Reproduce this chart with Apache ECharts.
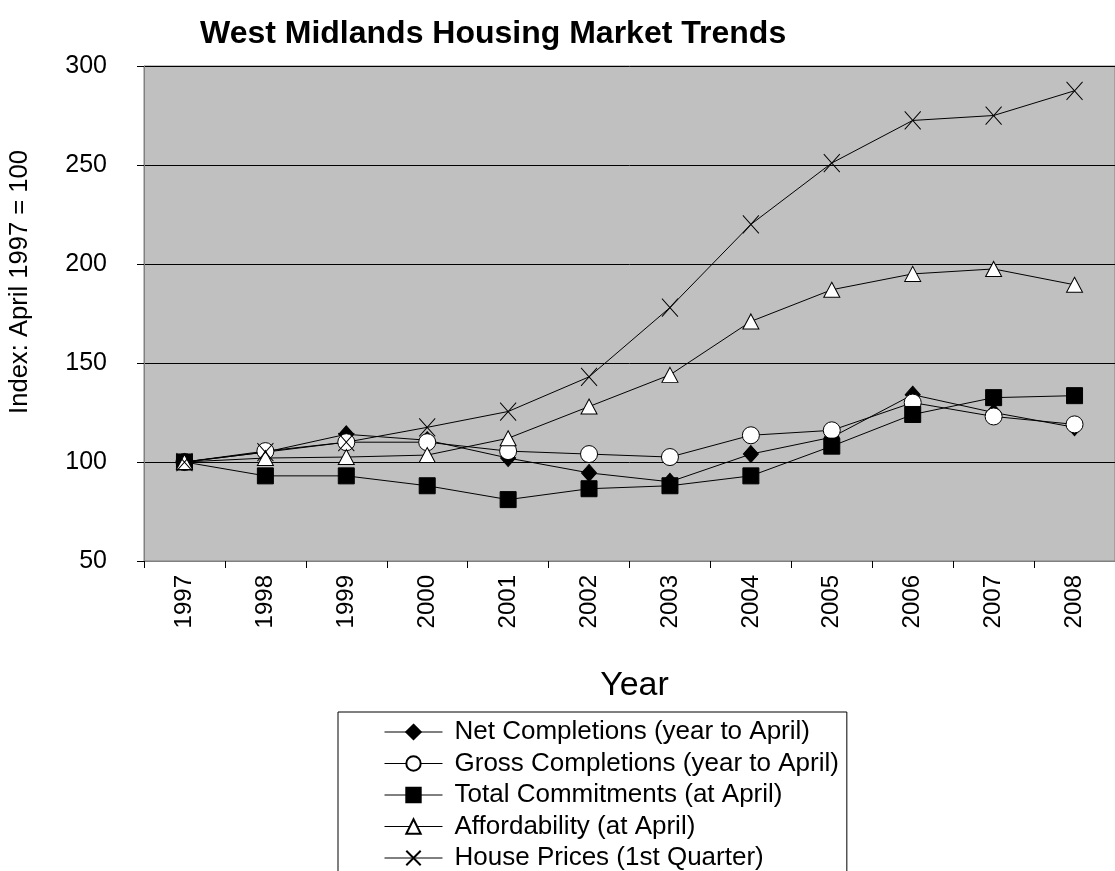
<!DOCTYPE html>
<html><head><meta charset="utf-8">
<script src="https://cdn.jsdelivr.net/npm/echarts@6/dist/echarts.min.js"></script>
<style>html,body{margin:0;padding:0;background:#fff}#c{width:1115px;height:871px}</style>
</head><body><div id="c"></div>
<script>
const years = ['1997','1998','1999','2000','2001','2002','2003','2004','2005','2006','2007','2008'];
const netCompletions = [100, 105, 114, 111, 102, 94.5, 90, 104, 112.5, 134, 125, 117.5];
const grossCompletions = [100, 105.5, 110, 110, 105.5, 104, 102.5, 113.5, 116, 130, 123, 119];
const totalCommitments = [100, 93, 93, 88, 81, 86.5, 88, 93, 108, 124, 132.5, 133.5];
const affordability = [100, 102, 102.5, 103.5, 112, 128, 144, 171, 187, 195, 197.5, 189.5];
const housePrices = [100, 105, 110, 117.5, 125.5, 143, 178, 220, 251, 272.5, 275, 287.5];
const yTicks = [50, 100, 150, 200, 250, 300];

const FONT = 'Liberation Sans, Arial, sans-serif';
const chart = echarts.init(document.getElementById('c'), null, {renderer: 'canvas'});
function s(name, data, symbol, size, fill, extra) {
  return Object.assign({
    name, type: 'line', data, symbol, symbolSize: size,
    lineStyle: {color: '#000', width: 1},
    itemStyle: {color: fill, borderColor: '#000', borderWidth: 1},
    emphasis: {disabled: true}, animation: false
  }, extra || {});
}
chart.setOption({
  backgroundColor: '#fff',
  title: {text: 'West Midlands Housing Market Trends', left: 195, top: 13,
    textStyle: {fontFamily: FONT, fontSize: 32, fontWeight: 'bold', color: '#000'}},
  grid: {left: 144, top: 66, right: -8, bottom: 310, show: true, backgroundColor: '#c0c0c0',
    borderColor: '#808080', borderWidth: 1},
  legend: {
    orient: 'vertical', left: 338, top: 712, width: 520, height: 200,
    itemWidth: 58, itemHeight: 18, itemGap: 5.5,
    padding: [7, 8, 10, 46], borderColor: '#000', borderWidth: 1, backgroundColor: '#fff',
    lineStyle: {width: 1},
    textStyle: {fontFamily: FONT, fontSize: 26, lineHeight: 26, color: '#000', padding: [0, 0, 0, 7]},
    data: ['Net Completions (year to April)', 'Gross Completions (year to April)',
      'Total Commitments (at April)', 'Affordability (at April)', 'House Prices (1st Quarter)']
  },
  xAxis: {
    type: 'category', data: years, boundaryGap: true,
    name: 'Year', nameLocation: 'middle', nameGap: 108,
    nameTextStyle: {fontFamily: FONT, fontSize: 34, color: '#000', padding: [0, 0, 0, 10]},
    axisLine: {lineStyle: {color: '#808080'}},
    axisTick: {show: true, length: 7, lineStyle: {color: '#000'}},
    axisLabel: {rotate: 90, margin: 14, fontFamily: FONT, fontSize: 24, color: '#000'},
    splitLine: {show: false}
  },
  yAxis: {
    type: 'value', min: yTicks[0], max: yTicks[yTicks.length - 1], interval: 50,
    axisLine: {show: true, lineStyle: {color: '#808080'}},
    axisTick: {show: true, length: 7, lineStyle: {color: '#000'}},
    axisLabel: {margin: 37, fontFamily: FONT, fontSize: 25, color: '#000'},
    splitLine: {show: true, lineStyle: {color: '#000', width: 1}}
  },
  graphic: [{
    type: 'text', left: 7, top: 150, rotation: Math.PI / 2,
    style: {text: 'Index: April 1997 = 100', font: '25.6px ' + FONT, fill: '#000'}
  }],
  series: [
    s('Net Completions (year to April)', netCompletions, 'diamond', [15, 17], '#000'),
    s('Gross Completions (year to April)', grossCompletions, 'circle', 17, '#fff'),
    s('Total Commitments (at April)', totalCommitments, 'rect', 16, '#000'),
    s('Affordability (at April)', affordability, 'triangle', [16, 15], '#fff'),
    s('House Prices (1st Quarter)', housePrices, 'path://M0,0L16,18M16,0L0,18', [16, 18], 'none',
      {itemStyle: {color: 'none', borderColor: '#000', borderWidth: 1}})
  ]
});
</script></body></html>
